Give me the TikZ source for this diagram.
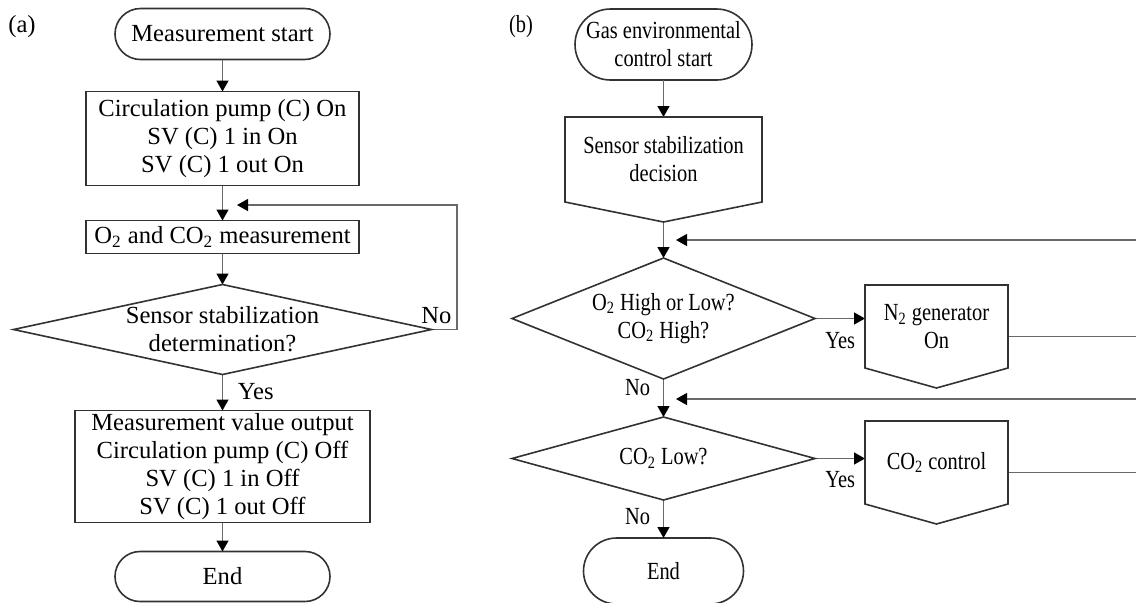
\documentclass[tikz,border=0pt]{standalone}
\usepackage{fontspec}
\setmainfont{Liberation Serif}
\newfontfamily\narrowserif[FakeStretch=0.83]{Liberation Serif}
\usepackage{tikz}
\usetikzlibrary{arrows.meta,positioning}
\definecolor{edgegray}{RGB}{50,50,50}
\definecolor{wiregray}{RGB}{105,105,105}
\newcommand{\flowfont}{\fontsize{12.3}{14}\selectfont}
\newcommand{\flowfontb}{\narrowserif\fontsize{12.3}{14}\selectfont}
\tikzset{
  box/.style={rectangle, draw=edgegray, line width=0.8pt, align=center, inner sep=0pt, outer sep=0pt},
  terminal/.style={box, rounded corners=#1},
  decision/.style={rectangle, align=center, inner sep=0pt, outer sep=0pt},
  offpage/.style={rectangle, align=center, inner sep=0pt, outer sep=0pt},
  outline/.style={draw=edgegray, line width=0.8pt},
  arrow/.style={-{Triangle[length=5.5pt, width=6pt, black]}, line width=0.7pt, wiregray},
  wire/.style={line width=0.7pt, wiregray},
  note/.style={inner sep=1pt},
}
\begin{document}
\begin{tikzpicture}[x=0.5pt, y=-0.5pt, font=\flowfont]
\useasboundingbox (0,0) rectangle (1136,602);

% (a) measurement
\node[note] (tagA) at (22,27) {(a)};
\node[terminal=12.75pt, minimum width=107.5pt, minimum height=25.5pt] (startA) at (222.5,34) {Measurement start};
\node[box, minimum width=136.5pt, minimum height=47pt, below=16pt of startA] (pumpOn) {Circulation pump (C) On\\SV (C) 1 in On\\SV (C) 1 out On};
\node[box, minimum width=136.5pt, minimum height=16.5pt, below=17.5pt of pumpOn] (meas) {O\textsubscript{2} and CO\textsubscript{2} measurement};
\node[decision, minimum width=209pt, minimum height=45pt, below=15.5pt of meas] (stab) {Sensor stabilization\\determination?};
\node[box, minimum width=147.5pt, minimum height=56pt, below=18pt of stab] (pumpOff) {Measurement value output\\Circulation pump (C) Off\\SV (C) 1 in Off\\SV (C) 1 out Off};
\node[terminal=12.5pt, minimum width=107.5pt, minimum height=25pt, below=14.5pt of pumpOff] (endA) {End};
\foreach \a/\b in {startA/pumpOn, pumpOn/meas, meas/stab, stab/pumpOff, pumpOff/endA}
  \draw[arrow] (\a) -- (\b);
\coordinate (loopA) at (457,205);
\coordinate (backA) at (237,205);
\draw[arrow] (stab.east) -| (loopA) -- (backA);
\node[note, above=1.5pt of stab.east, xshift=2.5pt] (noA) {No};
\node[note, below right=3pt and 6.5pt of stab.south] (yesA) {Yes};

% (b) gas environment control
\begin{scope}[font=\flowfontb]
\node[note] (tagB) at (521,27) {(b)};
\node[terminal=17.75pt, minimum width=88.5pt, minimum height=35.5pt] (startB) at (663.5,44.5) {Gas environmental\\control start};
\node[offpage, minimum width=98.5pt, minimum height=42.5pt, below=18.5pt of startB] (sdec) {Sensor stabilization\\decision};
\node[decision, minimum width=151.5pt, minimum height=60.5pt, below=28pt of sdec] (gaschk) {O\textsubscript{2} High or Low?\\CO\textsubscript{2} High?};
\node[offpage, minimum width=71.5pt, minimum height=41.5pt, right=25pt of gaschk, yshift=-4pt] (ngen) {N\textsubscript{2} generator\\On};
\node[decision, minimum width=151.5pt, minimum height=41.5pt, below=19pt of gaschk] (colow) {CO\textsubscript{2} Low?};
\node[offpage, minimum width=71.5pt, minimum height=41.5pt, right=25pt of colow, yshift=-2pt] (coctl) {CO\textsubscript{2} control};
\node[terminal=16.5pt, minimum width=80pt, minimum height=33pt, below=19pt of colow] (endB) {End};
\coordinate (sdecTip) at ([yshift=-10pt]sdec.south);
\coordinate (rim) at (1136,0);
\foreach \a/\b in {startB/sdec, sdecTip/gaschk, gaschk/colow, colow/endB}
  \draw[arrow] (\a) -- (\b);
\draw[arrow] (gaschk.east) -- (gaschk.east -| ngen.west);
\draw[arrow] (colow.east) -- (colow.east -| coctl.west);
\draw[wire] ([yshift=-5pt]ngen.east) -- ([yshift=-5pt]ngen.east -| rim);
\draw[wire] ([yshift=-5pt]coctl.east) -- ([yshift=-5pt]coctl.east -| rim);
\coordinate (backB1) at (676,240);
\coordinate (backB2) at (676,399);
\draw[arrow] (backB1 -| rim) -- (backB1);
\draw[arrow] (backB2 -| rim) -- (backB2);
\node[note, below right=5.5pt and 4pt of gaschk.east] (yesB1) {Yes};
\node[note, below right=5pt and 4pt of colow.east] (yesB2) {Yes};
\node[note, below left=-1pt and 5.5pt of gaschk.south] (noB1) {No};
\node[note, below left=3pt and 5.5pt of colow.south] (noB2) {No};
\end{scope}

% outlines of decisions and off-page boxes
\foreach \n in {stab, gaschk, colow}
  \draw[outline] (\n.north) -- (\n.east) -- (\n.south) -- (\n.west) -- cycle;
\foreach \n in {sdec, ngen, coctl}
  \draw[outline] (\n.north west) -- (\n.north east) -- (\n.south east) -- ([yshift=-10pt]\n.south) -- (\n.south west) -- cycle;
\end{tikzpicture}
\end{document}
